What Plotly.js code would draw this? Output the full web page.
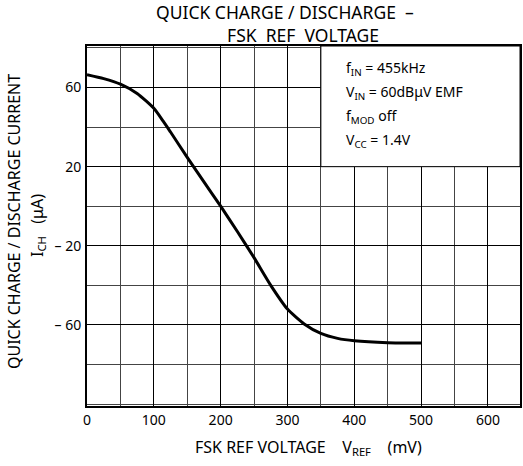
<!DOCTYPE html>
<html>
<head>
<meta charset="utf-8">
<script src="https://cdn.plot.ly/plotly-3.0.1.min.js"></script>
<style>html,body{margin:0;padding:0;background:#fff;}#chart{width:523px;height:466px;}</style>
</head>
<body>
<div id="chart"></div>
<script>
// Data
const vref = [0, 25, 50, 75, 100, 114, 125, 150, 175, 200, 225, 250, 275, 300, 325, 350, 375, 400, 450, 500];
const ich  = [66.5, 64.5, 61.7, 57, 49.5, 43, 37.5, 24.7, 12.3, 0, -12.8, -26, -40, -52, -59.5, -64.3, -66.8, -68, -69, -69.2];
const xTickVals = [0, 100, 200, 300, 400, 500, 600];
const xTickText = ['0', '100', '200', '300', '400', '500', '600'];
const yTickVals = [60, 20, -20, -60];
const yTickText = ['60', '20', '\u2013 20', '\u2013 60'];
const conditions = [
  'f<sub>IN</sub> = 455kHz',
  'V<sub>IN</sub> = 60dB\u03BCV EMF',
  'f<sub>MOD</sub> off',
  'V<sub>CC</sub> = 1.4V'
];

const FONT = 'Noto Sans, Open Sans, DejaVu Sans, sans-serif';
const NB = '\u00A0';

const trace = {
  x: vref, y: ich, type: 'scatter', mode: 'lines',
  line: {color: '#000', width: 3, shape: 'spline', smoothing: 0.6},
  hoverinfo: 'skip'
};

const titleText = 'QUICK CHARGE / DISCHARGE ' + NB + '\u2013' + NB.repeat(8) +
  '<br>FSK' + NB + ' REF' + NB + ' VOLTAGE';

const annotations = [
  {text: titleText, xref: 'paper', yref: 'paper', x: (303 - 87) / 433, y: 1.0, yshift: -3,
   align: 'center', showarrow: false, xanchor: 'center', yanchor: 'bottom',
   font: {family: FONT, size: 17.5, color: '#000'}},
  {text: 'QUICK CHARGE / DISCHARGE CURRENT', xref: 'paper', yref: 'paper', x: 0, xshift: -73, y: 0.511,
   textangle: -90, showarrow: false, xanchor: 'center', yanchor: 'middle', font: {family: FONT, size: 16, color: '#000'}},
  {text: 'I<sub>CH</sub>   (\u03BCA)', xref: 'paper', yref: 'paper', x: 0, xshift: -50, y: 0.5,
   textangle: -90, showarrow: false, xanchor: 'center', yanchor: 'middle', font: {family: FONT, size: 16, color: '#000'}},
  {text: 'FSK REF VOLTAGE    V<sub>REF</sub>    (mV)', xref: 'paper', yref: 'paper', x: (308 - 87) / 433, y: 0, yshift: -28,
   showarrow: false, xanchor: 'center', yanchor: 'top', font: {family: FONT, size: 16, color: '#000'}}
];
conditions.forEach((t, i) => {
  annotations.push({text: t, xref: 'x', yref: 'paper', x: 384, y: 1, yshift: -10 - i * 24,
    showarrow: false, xanchor: 'left', yanchor: 'top', font: {family: FONT, size: 14, color: '#000'}});
});

const layout = {
  width: 523, height: 466,
  margin: {l: 87, r: 3, t: 46, b: 60},
  paper_bgcolor: '#fff', plot_bgcolor: '#fff',
  showlegend: false,
  xaxis: {
    range: [0, 648], tickvals: xTickVals, ticktext: xTickText,
    showgrid: true, gridcolor: '#000', gridwidth: 1,
    minor: {dtick: 50, tick0: 0, showgrid: true, gridcolor: '#444', gridwidth: 1, ticks: ''},
    showline: true, linecolor: '#000', linewidth: 2, mirror: true,
    ticks: '', zeroline: false,
    tickfont: {family: FONT, size: 14, color: '#000'}
  },
  yaxis: {
    range: [-101, 81], tickvals: yTickVals, ticktext: yTickText,
    showgrid: true, gridcolor: '#000', gridwidth: 1,
    minor: {dtick: 20, tick0: 0, showgrid: true, gridcolor: '#444', gridwidth: 1, ticks: ''},
    showline: true, linecolor: '#000', linewidth: 2, mirror: true,
    ticks: '', zeroline: false, ticklabelstandoff: 1,
    tickfont: {family: FONT, size: 14, color: '#000'}
  },
  shapes: [
    {type: 'rect', xref: 'x', yref: 'y', x0: 350, x1: 648, y0: 20, y1: 81,
     fillcolor: '#fff', line: {color: '#000', width: 1}, layer: 'above'}
  ],
  annotations: annotations
};

Plotly.newPlot('chart', [trace], layout, {staticPlot: true, displayModeBar: false});
</script>
</body>
</html>
